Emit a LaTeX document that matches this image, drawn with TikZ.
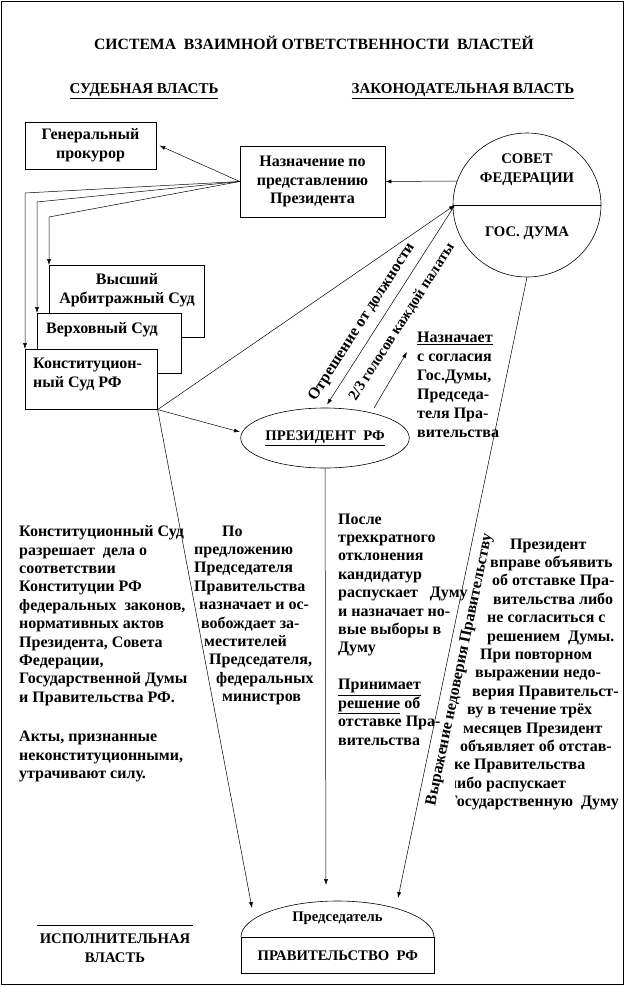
\documentclass[tikz,border=0pt]{standalone}
\usepackage{fontspec}
\setmainfont{Liberation Serif}
\usetikzlibrary{arrows.meta,calc,shapes.geometric}
\begin{document}
\begin{tikzpicture}[x=1pt,y=-1pt,
  every node/.style={inner sep=0pt},
  bodytxt/.style={font=\fontsize{16}{18.4}\selectfont\bfseries, align=left, anchor=north west},
  capstxt/.style={font=\fontsize{14.67}{19}\selectfont\bfseries},
  boxtxt/.style={font=\fontsize{16}{18.6}\selectfont\bfseries},
  box/.style={draw, fill=white, line width=0.6pt},
  conn/.style={line width=0.5pt},
  arr/.style={conn, -{Latex[length=6pt,width=4pt]}},
]
\useasboundingbox (0,0) rectangle (626,986);
\draw[line width=0.8pt] (1,1) rectangle (623,984);

% headings
\node[capstxt, font=\fontsize{15.7}{19}\selectfont\bfseries] (title) at (314,43) {СИСТЕМА\ \ ВЗАИМНОЙ ОТВЕТСТВЕННОСТИ\ \ ВЛАСТЕЙ};
\node[capstxt, font=\fontsize{15}{19}\selectfont\bfseries] (sud) at (144,91) {\underline{СУДЕБНАЯ ВЛАСТЬ}};
\node[capstxt, font=\fontsize{15}{19}\selectfont\bfseries] (zak) at (463,91) {\underline{ЗАКОНОДАТЕЛЬНАЯ ВЛАСТЬ}};

% boxes top
\node[box, boxtxt, align=center, minimum width=131pt, minimum height=47pt] (gp) at (90.5,145.5) {Генеральный\\прокурор};
\node[box, boxtxt, align=center, minimum width=145pt, minimum height=71pt] (nz) at (312.5,181.5) {Назначение по\\представлению\\Президента};

% courts
\node[box, minimum width=155pt, minimum height=72pt, anchor=north west] (vas) at (49,265) {};
\node[boxtxt, align=center] (vast) at (127,290.5) {Высший\\Арбитражный Суд};
\node[box, minimum width=144pt, minimum height=60pt, anchor=north west] (vs) at (37,313) {};
\node[boxtxt, anchor=west] (vst) at (46,330) {Верховный Суд};
\node[box, minimum width=132pt, minimum height=60pt, anchor=north west] (ks) at (25,349) {};
\node[boxtxt, align=left, anchor=west] (kst) at (33,374.5) {Конституцион-\\ный Суд РФ};

% connectors from appointment box
\draw[arr] (nz.west) -- ($(gp.east)+(3,0)$);
\draw[arr] (nz.west) -- ($(ks.north west)+(0,-156)$) -- (ks.north west);
\draw[arr] (nz.west) -- ($(vs.north west)+(0,-111)$) -- (vs.north west);
\draw[arr] (nz.west) -- ($(vas.north west)+(0,-48)$) -- (vas.north west);

% Federal assembly
\node[ellipse, draw, line width=0.6pt, minimum width=148pt, minimum height=144pt] (sf) at (527,205) {};
\draw[conn] (sf.west) -- (sf.east);
\node[capstxt, align=center] (sft) at (527,170) {СОВЕТ\\ФЕДЕРАЦИИ};
\node[capstxt] (gd) at (527,233) {ГОС. ДУМА};
\coordinate (sfL) at (457,181);
\coordinate (dL) at (455,205);
\draw[arr] (sfL) -- (nz.east);

% President
\node[ellipse, draw, line width=0.6pt, minimum width=168pt, minimum height=60pt, capstxt] (pr) at (325,438) {\underline{ПРЕЗИДЕНТ\ \ РФ}};

\coordinate (prL) at (240,432);
\coordinate (prR) at (374,408);
\coordinate (naz) at (407,352);
\draw[arr] (ks.south east) -- (dL);
\draw[arr] (ks.south east) -- (prL);
\draw[arr] (dL) -- ($(pr.north)+(2,-3)$);
\draw[arr] (prR) -- (naz);

\node[boxtxt, rotate=57.4] (otr) at (362,322) {Отрешение от должности};
\node[boxtxt, font=\fontsize{15}{18}\selectfont\bfseries, rotate=57.4] (two) at (402,322) {2/3 голосов каждой палаты};

\node[bodytxt, font=\fontsize{16}{19}\selectfont\bfseries] (nazt) at (417,331.5) {\underline{Назначает}\\с согласия\\Гос.Думы,\\Председа-\\теля Пра-\\вительства};

% Government
\node[draw, line width=0.6pt, minimum width=193pt, minimum height=36pt, anchor=north west, capstxt] (gov) at (241,937) {ПРАВИТЕЛЬСТВО\ \ РФ};
\draw[line width=0.6pt] (gov.north west) arc[start angle=180, end angle=360, x radius=96.5, y radius=36];
\node[capstxt] (pred) at (337.5,918) {Председатель};

\coordinate (g1) at (252,908);
\coordinate (g2) at (326,885);
\coordinate (g3) at (398,898);
\draw[arr] (ks.south east) -- (g1);
\draw[arr] (pr.south) -- (g2);
\draw[arr] (sf.south) -- (g3);

\node[boxtxt, rotate=78.2] (vyr) at (460,670) {Выражение недоверия Правительству};

% executive label
\draw[line width=0.6pt] (37,925) -- (193,925);
\node[capstxt, align=center, font=\fontsize{14.67}{18.5}\selectfont\bfseries] (isp) at (115,948) {ИСПОЛНИТЕЛЬНАЯ\\ВЛАСТЬ};

% text blocks
\node[bodytxt] (lb) at (19,525.5) {Конституционный Суд\\разрешает\ \ дела о\\соответствии\\Конституции РФ\\федеральных\ \ законов,\\нормативных актов\\Президента, Совета\\Федерации,\\Государственной Думы\\и Правительства РФ.\\[21pt]Акты, признанные\\неконституционными,\\утрачивают силу.};

\node[bodytxt] (mb) at (194,525.5) {\hspace*{28pt}По\\предложению\\Председателя\\Правительства\\\hspace*{5pt}назначает и ос-\\\hspace*{7pt}вобождает за-\\\hspace*{10pt}местителей\\\hspace*{15pt}Председателя,\\\hspace*{22pt}федеральных\\\hspace*{28pt}министров};

\node[bodytxt] (pb) at (338,513.5) {После\\трехкратного\\отклонения\\кандидатур\\распускает\ \ \ Думу\\и назначает но-\\вые выборы в\\Думу\\[18.6pt]\underline{Принимает}\\\underline{решение} об\\отставке Пра-\\вительства};

\begin{scope}
\clip (455,520) rectangle (622,815);
\node[bodytxt] (rb) at (448,538.5) {\hspace*{62pt}Президент\\\hspace*{42pt}вправе объявить\\\hspace*{44pt}об отставке Пра-\\\hspace*{45pt}вительства либо\\\hspace*{39pt}не согласиться с\\\hspace*{39pt}решением\ \ Думы.\\\hspace*{32pt}При повторном\\\hspace*{27pt}выражении недо-\\\hspace*{24pt}верия Правительст-\\\hspace*{19pt}ву в течение трёх\\\hspace*{15pt}месяцев Президент\\\hspace*{12pt}объявляет об отстав-\\\hspace*{6pt}ке Правительства\\либо распускает\\Государственную\ \ Думу};
\end{scope}
\end{tikzpicture}
\end{document}
